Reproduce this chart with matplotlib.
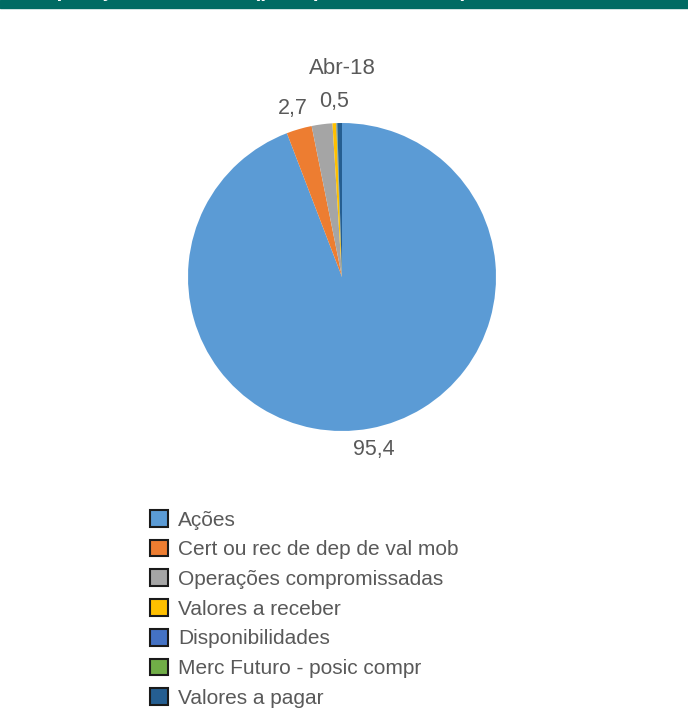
import numpy as np
import matplotlib; matplotlib.use("Agg")
import matplotlib.pyplot as plt
from matplotlib.patches import Rectangle, Patch

plt.rcParams["font.family"] = ["Liberation Sans", "DejaVu Sans"]

# dados (Abr-18, % do PL)
categorias = ["Ações", "Cert ou rec de dep de val mob", "Operações compromissadas",
              "Valores a receber", "Disponibilidades", "Merc Futuro - posic compr",
              "Valores a pagar"]
valores = [95.4, 2.7, 2.2, 0.4, 0.05, 0.05, 0.5]
rotulos = ["95,4", "2,7", None, None, None, None, "0,5"]
cores = ["#5B9BD5", "#ED7D31", "#A5A5A5", "#FFC000", "#4472C4", "#70AD47", "#255E91"]
titulo = "Abr-18"
faixa = "Composição da carteira (por tipo de ativo - %)"

W, H = 688, 708
fig = plt.figure(figsize=(W/100, H/100), dpi=100)
TXT = "#595959"

# faixa verde no topo (texto cortado, como no original)
fig.patches.append(Rectangle((0, 1-8/H), 1, 8/H, transform=fig.transFigure,
                             color="#006B63", zorder=0))
fig.text(10/W, 1-1/H, faixa, color="white", fontsize=15, fontweight="bold",
         ha="left", va="bottom")

# pizza: centro (342,277), raio 154 px
cx, cy, R = 342, 277, 154
lim = 1.3
half = R*lim
ax = fig.add_axes([(cx-half)/W, 1-(cy+half)/H, 2*half/W, 2*half/H])
wedges, _ = ax.pie(valores, colors=cores, startangle=90, counterclock=False,
                   radius=1, wedgeprops=dict(linewidth=0))
ax.set_xlim(-lim, lim); ax.set_ylim(-lim, lim); ax.set_aspect("equal"); ax.axis("off")

for w, lab in zip(wedges, rotulos):
    if lab is None:
        continue
    ang = np.radians((w.theta1+w.theta2)/2)
    dx = -0.035 if lab == "0,5" else 0.0
    ax.text(1.14*np.cos(ang)+dx, 1.14*np.sin(ang), lab, ha="center", va="center",
            fontsize=15.5, color=TXT)

fig.text(cx/W, 1-69/H, titulo, ha="center", va="center", fontsize=16, color=TXT)

handles = [Patch(facecolor=c, edgecolor="#1a1a1a", linewidth=1.5) for c in cores]
fig.legend(handles, categorias, loc="upper left", bbox_to_anchor=(150/W, 1-510/H),
           frameon=False, fontsize=15, labelcolor=TXT, handlelength=0.85,
           handleheight=0.85, handletextpad=0.5, labelspacing=0.49, borderpad=0,
           borderaxespad=0)

fig.savefig("out.png", dpi=100)
